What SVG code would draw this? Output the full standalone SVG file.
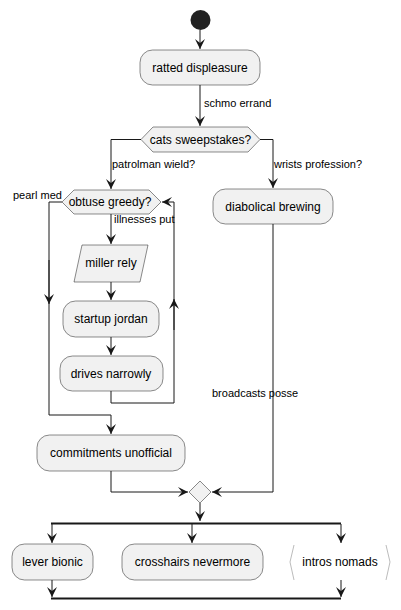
<svg xmlns="http://www.w3.org/2000/svg" width="401" height="610" viewBox="0 0 401 610">
<defs>
<style>
.box{fill:#F1F1F1;stroke:#181818;stroke-width:0.5}
.t{font-family:"Liberation Sans",Arial,sans-serif;font-size:12px;fill:#000;text-anchor:middle}
.l{font-family:"Liberation Sans",Arial,sans-serif;font-size:11px;fill:#000}
.c{fill:none;stroke:#181818;stroke-width:1}
</style>
<marker id="arr" viewBox="0 0 10 10" refX="10" refY="5" markerWidth="10" markerHeight="10" markerUnits="userSpaceOnUse" orient="auto">
<polygon points="0,0 10,5 0,10 4,5" fill="#181818"/>
</marker>
</defs>
<rect width="401" height="610" fill="#FFFFFF"/>

<g id="connectors">
<path class="c" d="M200,30 V49" marker-end="url(#arr)"/>
<path class="c" d="M200,85 V126" marker-end="url(#arr)"/>
<path class="c" d="M141,139.5 H111 V189" marker-end="url(#arr)"/>
<path class="c" d="M260,139.5 H273 V188" marker-end="url(#arr)"/>
<path class="c" d="M111,214 V244" marker-end="url(#arr)"/>
<path class="c" d="M111,282 V300" marker-end="url(#arr)"/>
<path class="c" d="M111,337 V355" marker-end="url(#arr)"/>
<path class="c" d="M111,391 V403 H174 V202 H162" marker-end="url(#arr)"/>
<path class="c" d="M174,330 V299" marker-end="url(#arr)"/>
<path class="c" d="M62,202 H49 V415 H111 V434" marker-end="url(#arr)"/>
<path class="c" d="M49,260 V304" marker-end="url(#arr)"/>
<path class="c" d="M111,471 V492 H188" marker-end="url(#arr)"/>
<path class="c" d="M273,224 V492 H212" marker-end="url(#arr)"/>
<path class="c" d="M200,503 V521" marker-end="url(#arr)"/>
<rect x="51" y="522.5" width="290" height="2" fill="#181818"/>
<path class="c" d="M52,524 V543" marker-end="url(#arr)"/>
<path class="c" d="M192,524 V543" marker-end="url(#arr)"/>
<path class="c" d="M341,524 V543" marker-end="url(#arr)"/>
<path class="c" d="M52,580 V597" marker-end="url(#arr)"/>
<path class="c" d="M341,580 V597" marker-end="url(#arr)"/>
<rect x="51" y="597.5" width="290" height="2" fill="#181818"/>
<text class="l" x="204" y="107">schmo errand</text>
<text class="l" x="112" y="168">patrolman wield?</text>
<text class="l" x="274" y="168">wrists profession?</text>
<text class="l" x="13" y="199">pearl med</text>
<text class="l" x="114" y="223">illnesses put</text>
<text class="l" x="212" y="397">broadcasts posse</text>
</g>

<g id="start"><circle cx="200.5" cy="20" r="10" fill="#222222"/></g>

<g id="ratted-displeasure">
<rect class="box" x="140" y="50" width="120" height="35" rx="12.5"/>
<text class="t" x="200" y="72">ratted displeasure</text>
</g>

<g id="cats-sweepstakes">
<polygon class="box" points="141,139.5 153,127 248,127 260,139.5 248,152 153,152"/>
<text class="t" x="200.5" y="144">cats sweepstakes?</text>
</g>

<g id="obtuse-greedy">
<polygon class="box" points="62,202 74,190 149,190 161,202 149,214 74,214"/>
<text class="t" x="110" y="206">obtuse greedy?</text>
</g>

<g id="miller-rely">
<polygon class="box" points="82,245 148,245 140,282 74,282"/>
<text class="t" x="111" y="267">miller rely</text>
</g>

<g id="startup-jordan">
<rect class="box" x="63" y="301" width="96" height="36" rx="12.5"/>
<text class="t" x="111" y="323">startup jordan</text>
</g>

<g id="drives-narrowly">
<rect class="box" x="60" y="356" width="103" height="35" rx="12.5"/>
<text class="t" x="111" y="378">drives narrowly</text>
</g>

<g id="diabolical-brewing">
<rect class="box" x="213" y="189" width="120" height="35" rx="12.5"/>
<text class="t" x="273" y="211">diabolical brewing</text>
</g>

<g id="commitments-unofficial">
<rect class="box" x="37" y="435" width="148" height="36" rx="12.5"/>
<text class="t" x="111" y="457">commitments unofficial</text>
</g>

<g id="merge">
<polygon class="box" points="189,492 200,481 211,492 200,503"/>
</g>

<g id="lever-bionic">
<rect class="box" x="12" y="544" width="81" height="36" rx="12.5"/>
<text class="t" x="52.5" y="566">lever bionic</text>
</g>

<g id="crosshairs-nevermore">
<rect class="box" x="122" y="544" width="141" height="36" rx="12.5"/>
<text class="t" x="192.5" y="566">crosshairs nevermore</text>
</g>

<g id="intros-nomads">
<polyline points="294,545 290,562 294,580" fill="none" stroke="#aaaaaa" stroke-width="0.8"/>
<polyline points="386,545 390,562 386,580" fill="none" stroke="#aaaaaa" stroke-width="0.8"/>
<text class="t" x="340" y="566">intros nomads</text>
</g>
</svg>
